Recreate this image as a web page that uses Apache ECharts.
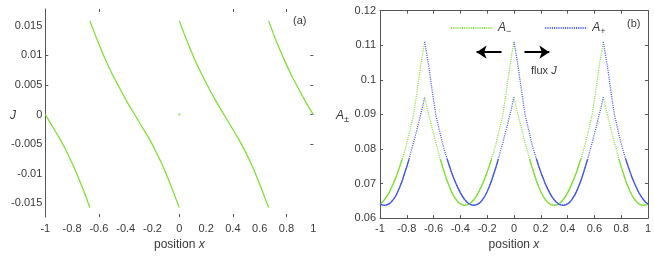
<!DOCTYPE html>
<html>
<head>
<meta charset="utf-8">
<script src="https://cdn.jsdelivr.net/npm/echarts@6/dist/echarts.min.js"></script>
<style>html,body{margin:0;padding:0;background:#fff;}#c{width:654px;height:256px;}</style>
</head>
<body>
<div id="c"></div>
<script>
// ---- panel (a): flux J vs position x ----
const jX1 = [-1, -0.944, -0.889, -0.833, -0.778, -0.722, -0.667];
const jY1 = [0, -0.0021, -0.0042, -0.0066, -0.0093, -0.0124, -0.0157];
const jX2 = [-0.667, -0.611, -0.556, -0.5, -0.444, -0.389, -0.333, -0.278, -0.222, -0.167, -0.111, -0.056, 0];
const jY2 = [0.0158, 0.0125, 0.0095, 0.0068, 0.0044, 0.0021, 0, -0.0021, -0.0042, -0.0066, -0.0093, -0.0124, -0.0157];
const jX3 = [0, 0.056, 0.111, 0.167, 0.222, 0.278, 0.333, 0.389, 0.444, 0.5, 0.556, 0.611, 0.667];
const jY3 = [0.0158, 0.0125, 0.0095, 0.0068, 0.0044, 0.0021, 0, -0.0021, -0.0042, -0.0066, -0.0093, -0.0124, -0.0157];
const jX4 = [0.667, 0.722, 0.778, 0.833, 0.889, 0.944, 1];
const jY4 = [0.0158, 0.0125, 0.0095, 0.0068, 0.0044, 0.0021, 0];
const jDot = [[0, 0]];
const aXLabels = [-1, -0.8, -0.6, -0.4, -0.2, 0, 0.2, 0.4, 0.6, 0.8, 1];
const aYLabels = [-0.015, -0.01, -0.005, 0, 0.005, 0.01, 0.015];
const aBottomTicks = [-0.6, 0, 0.4, 0.8];
const aTopTicks = [-0.6, 0.4, 0.8];
const aLeftTicks = [0.005, 0.01];
const aRightTicks = [-0.005, 0, 0.005, 0.01];

// ---- panel (b): A- and A+ vs position x ----
const xA0 = [-1, -0.983, -0.967, -0.95, -0.933, -0.917, -0.9, -0.883, -0.867, -0.85, -0.833, -0.817, -0.8, -0.783, -0.767, -0.75, -0.733, -0.717, -0.7, -0.683, -0.667];
const xA1 = [-0.667, -0.65, -0.633, -0.617, -0.6, -0.583, -0.567, -0.55, -0.533, -0.517, -0.5, -0.483, -0.467, -0.45, -0.433, -0.417, -0.4, -0.383, -0.367, -0.35, -0.333, -0.317, -0.3, -0.283, -0.267, -0.25, -0.233, -0.217, -0.2, -0.183, -0.167, -0.15, -0.133, -0.117, -0.1, -0.083, -0.067, -0.05, -0.033, -0.017, 0];
const xA2 = [0, 0.017, 0.033, 0.05, 0.067, 0.083, 0.1, 0.117, 0.133, 0.15, 0.167, 0.183, 0.2, 0.217, 0.233, 0.25, 0.267, 0.283, 0.3, 0.317, 0.333, 0.35, 0.367, 0.383, 0.4, 0.417, 0.433, 0.45, 0.467, 0.483, 0.5, 0.517, 0.533, 0.55, 0.567, 0.583, 0.6, 0.617, 0.633, 0.65, 0.667];
const xA3 = [0.667, 0.683, 0.7, 0.717, 0.733, 0.75, 0.767, 0.783, 0.8, 0.817, 0.833, 0.85, 0.867, 0.883, 0.9, 0.917, 0.933, 0.95, 0.967, 0.983, 1];

const aMinus0 = [0.0641, 0.0646, 0.0653, 0.0662, 0.0673, 0.0686, 0.0700, 0.0716, 0.0733, 0.0752, 0.0772, 0.0793, 0.0816, 0.0843, 0.0871, 0.0898, 0.0941, 0.0986, 0.1032, 0.1072, 0.1110];
const aMinus1 = [0.0950, 0.0920, 0.0895, 0.0868, 0.0843, 0.0818, 0.0795, 0.0771, 0.0749, 0.0729, 0.0709, 0.0692, 0.0677, 0.0664, 0.0654, 0.0646, 0.0641, 0.0638, 0.0637, 0.0638, 0.0641, 0.0646, 0.0653, 0.0662, 0.0673, 0.0686, 0.0700, 0.0716, 0.0733, 0.0752, 0.0772, 0.0793, 0.0816, 0.0843, 0.0871, 0.0898, 0.0941, 0.0986, 0.1032, 0.1072, 0.1110];
const aMinus2 = [0.0950, 0.0920, 0.0895, 0.0868, 0.0843, 0.0818, 0.0795, 0.0771, 0.0749, 0.0729, 0.0709, 0.0692, 0.0677, 0.0664, 0.0654, 0.0646, 0.0641, 0.0638, 0.0637, 0.0638, 0.0641, 0.0646, 0.0653, 0.0662, 0.0673, 0.0686, 0.0700, 0.0716, 0.0733, 0.0752, 0.0772, 0.0793, 0.0816, 0.0843, 0.0871, 0.0898, 0.0941, 0.0986, 0.1032, 0.1072, 0.1110];
const aMinus3 = [0.0950, 0.0920, 0.0895, 0.0868, 0.0843, 0.0818, 0.0795, 0.0771, 0.0749, 0.0729, 0.0709, 0.0692, 0.0677, 0.0664, 0.0654, 0.0646, 0.0641, 0.0638, 0.0637, 0.0638, 0.0641];

const aPlus0 = [0.0641, 0.0638, 0.0637, 0.0638, 0.0641, 0.0646, 0.0654, 0.0664, 0.0677, 0.0692, 0.0709, 0.0729, 0.0749, 0.0771, 0.0795, 0.0818, 0.0843, 0.0868, 0.0895, 0.0920, 0.0950];
const aPlus1 = [0.1110, 0.1072, 0.1032, 0.0986, 0.0941, 0.0898, 0.0871, 0.0843, 0.0816, 0.0793, 0.0772, 0.0752, 0.0733, 0.0716, 0.0700, 0.0686, 0.0673, 0.0662, 0.0653, 0.0646, 0.0641, 0.0638, 0.0637, 0.0638, 0.0641, 0.0646, 0.0654, 0.0664, 0.0677, 0.0692, 0.0709, 0.0729, 0.0749, 0.0771, 0.0795, 0.0818, 0.0843, 0.0868, 0.0895, 0.0920, 0.0950];
const aPlus2 = [0.1110, 0.1072, 0.1032, 0.0986, 0.0941, 0.0898, 0.0871, 0.0843, 0.0816, 0.0793, 0.0772, 0.0752, 0.0733, 0.0716, 0.0700, 0.0686, 0.0673, 0.0662, 0.0653, 0.0646, 0.0641, 0.0638, 0.0637, 0.0638, 0.0641, 0.0646, 0.0654, 0.0664, 0.0677, 0.0692, 0.0709, 0.0729, 0.0749, 0.0771, 0.0795, 0.0818, 0.0843, 0.0868, 0.0895, 0.0920, 0.0950];
const aPlus3 = [0.1110, 0.1072, 0.1032, 0.0986, 0.0941, 0.0898, 0.0871, 0.0843, 0.0816, 0.0793, 0.0772, 0.0752, 0.0733, 0.0716, 0.0700, 0.0686, 0.0673, 0.0662, 0.0653, 0.0646, 0.0641];

const fluxArrowLeft = [[-0.093, 0.108], [-0.279, 0.108]];
const fluxArrowRight = [[0.078, 0.108], [0.264, 0.108]];

const GREEN = '#7fe034';
const BLUE = '#4157f0';
const AXIS = '#555555';
const TXT = '#3a3a3a';
const FONT = '"Liberation Sans", Arial, Helvetica, sans-serif';
const SOLID_MAX = 0.078; // below this the dense dotted curve reads as a solid line

function pairs(xs, ys) { return xs.map((x, i) => [x, ys[i]]); }

const chart = echarts.init(document.getElementById('c'), null, {renderer: 'canvas'});

const series = [];
// panel a lines
[[jX1, jY1], [jX2, jY2], [jX3, jY3], [jX4, jY4]].forEach(([xs, ys]) => {
  series.push({
    type: 'line', xAxisIndex: 0, yAxisIndex: 0, data: pairs(xs, ys),
    symbol: 'none', smooth: 0.4,
    lineStyle: {color: GREEN, width: 1.3}, itemStyle: {color: GREEN}, silent: true
  });
});
series.push({
  type: 'scatter', xAxisIndex: 0, yAxisIndex: 0, data: jDot,
  symbol: 'rect', symbolSize: 2, itemStyle: {color: GREEN}, silent: true
});

// panel b dotted series
const minusSegs = [[xA0, aMinus0], [xA1, aMinus1], [xA2, aMinus2], [xA3, aMinus3]];
const plusSegs = [[xA0, aPlus0], [xA1, aPlus1], [xA2, aPlus2], [xA3, aPlus3]];
function dotted(name, color, seg) {
  return {
    type: 'line', name: name, xAxisIndex: 2, yAxisIndex: 2, data: pairs(seg[0], seg[1]),
    symbol: 'none', lineStyle: {color: color, width: 1.3, type: [1, 1.2]},
    itemStyle: {color: color}, silent: true, z: 3
  };
}
const firstDotted = series.length;
minusSegs.forEach(s => series.push(dotted('A−', GREEN, s)));
plusSegs.forEach(s => series.push(dotted('A+', BLUE, s)));

// solid overlay for the dense (shallow) parts of each curve
function solid(color, seg) {
  return {
    type: 'line', xAxisIndex: 2, yAxisIndex: 2,
    data: pairs(seg[0], seg[1]).filter(p => p[1] < SOLID_MAX),
    symbol: 'none', lineStyle: {color: color, width: 1.3}, itemStyle: {color: color},
    silent: true, z: 2
  };
}
minusSegs.forEach(s => series.push(solid(GREEN, s)));
plusSegs.forEach(s => series.push(solid(BLUE, s)));

// arrows (flux direction)
series[firstDotted].markLine = {
  silent: true, symbol: ['none', 'arrow'], symbolSize: 10,
  label: {show: false},
  lineStyle: {color: '#000', width: 2, type: 'solid'},
  emphasis: {disabled: true},
  data: [
    [{coord: fluxArrowLeft[0]}, {coord: fluxArrowLeft[1]}],
    [{coord: fluxArrowRight[0]}, {coord: fluxArrowRight[1]}]
  ]
};

const tickCommon = {show: true, inside: true, length: 3, lineStyle: {color: AXIS, width: 1}};
const labelCommon = {color: TXT, fontSize: 11, fontFamily: FONT};
const nameRich = {
  p: {fontSize: 12, color: TXT, fontFamily: FONT},
  i: {fontSize: 12, color: TXT, fontFamily: FONT, fontStyle: 'italic'}
};
const lineOn = {show: true, onZero: false, lineStyle: {color: AXIS, width: 1}};
const lineOff = {show: false, onZero: false};

const option = {
  animation: false,
  backgroundColor: '#fff',
  textStyle: {fontFamily: FONT},
  grid: [
    {left: 45.3, top: 9, width: 268, height: 211},
    {left: 380, top: 10.7, width: 269, height: 211.8}
  ],
  xAxis: [
    {type: 'value', gridIndex: 0, min: -1, max: 1, position: 'bottom',
     axisLine: lineOff, splitLine: {show: false},
     axisTick: Object.assign({customValues: aBottomTicks}, tickCommon),
     axisLabel: Object.assign({customValues: aXLabels, margin: 6}, labelCommon),
     name: '{p|position }{i|x}', nameLocation: 'middle', nameGap: 20,
     nameTextStyle: {rich: nameRich}},
    {type: 'value', gridIndex: 0, min: -1, max: 1, position: 'top',
     axisLine: lineOff, splitLine: {show: false},
     axisTick: Object.assign({customValues: aTopTicks}, tickCommon),
     axisLabel: {show: false}},
    {type: 'value', gridIndex: 1, min: -1, max: 1, interval: 0.2, position: 'bottom',
     axisLine: lineOn, splitLine: {show: false},
     axisTick: tickCommon,
     axisLabel: Object.assign({margin: 5, showMinLabel: true, showMaxLabel: true}, labelCommon),
     name: '{p|position }{i|x}', nameLocation: 'middle', nameGap: 18,
     nameTextStyle: {rich: nameRich}},
    {type: 'value', gridIndex: 1, min: -1, max: 1, interval: 0.2, position: 'top',
     axisLine: lineOn, splitLine: {show: false},
     axisTick: tickCommon, axisLabel: {show: false}}
  ],
  yAxis: [
    {type: 'value', gridIndex: 0, min: -0.0173, max: 0.0178, position: 'left',
     axisLine: lineOn, splitLine: {show: false},
     axisTick: Object.assign({customValues: aLeftTicks}, tickCommon),
     axisLabel: Object.assign({customValues: aYLabels, margin: 3}, labelCommon)},
    {type: 'value', gridIndex: 0, min: -0.0173, max: 0.0178, position: 'right',
     axisLine: lineOff, splitLine: {show: false},
     axisTick: Object.assign({customValues: aRightTicks}, tickCommon),
     axisLabel: {show: false}},
    {type: 'value', gridIndex: 1, min: 0.06, max: 0.12, interval: 0.01, position: 'left',
     axisLine: lineOn, splitLine: {show: false},
     axisTick: tickCommon,
     axisLabel: Object.assign({margin: 4}, labelCommon)},
    {type: 'value', gridIndex: 1, min: 0.06, max: 0.12, interval: 0.01, position: 'right',
     axisLine: lineOn, splitLine: {show: false},
     axisTick: tickCommon, axisLabel: {show: false}}
  ],
  legend: {
    data: ['A−', 'A+'], left: 445, top: 17, itemWidth: 42, itemHeight: 10, itemGap: 33,
    selectedMode: false,
    itemStyle: {opacity: 0},
    formatter: function (name) { return name === 'A−' ? '{a|A}{s|−}' : '{a|A}{s|+}'; },
    textStyle: {
      color: TXT,
      rich: {
        a: {fontSize: 12, fontStyle: 'italic', color: TXT, fontFamily: FONT},
        s: {fontSize: 9, color: TXT, fontFamily: FONT, padding: [7, 0, 0, 0]}
      }
    }
  },
  graphic: [
    {type: 'text', left: 10, top: 110, style: {text: 'J', font: 'italic 12px ' + FONT, fill: TXT}},
    {type: 'text', left: 293, top: 15, style: {text: '(a)', font: '11px ' + FONT, fill: TXT}},
    {type: 'text', left: 627, top: 18, style: {text: '(b)', font: '11px ' + FONT, fill: TXT}},
    {type: 'text', left: 336, top: 110, style: {
      text: '{a|A}{s|±}',
      rich: {
        a: {fontSize: 12, fontStyle: 'italic', fill: TXT, fontFamily: FONT},
        s: {fontSize: 9, fill: TXT, fontFamily: FONT, padding: [7, 0, 0, 0]}
      }}},
    {type: 'text', left: 531, top: 65, style: {
      text: '{p|flux }{i|J}',
      rich: {
        p: {fontSize: 11, fill: TXT, fontFamily: FONT},
        i: {fontSize: 11, fontStyle: 'italic', fill: TXT, fontFamily: FONT}
      }}}
  ],
  series: series
};
chart.setOption(option);
</script>
</body>
</html>
